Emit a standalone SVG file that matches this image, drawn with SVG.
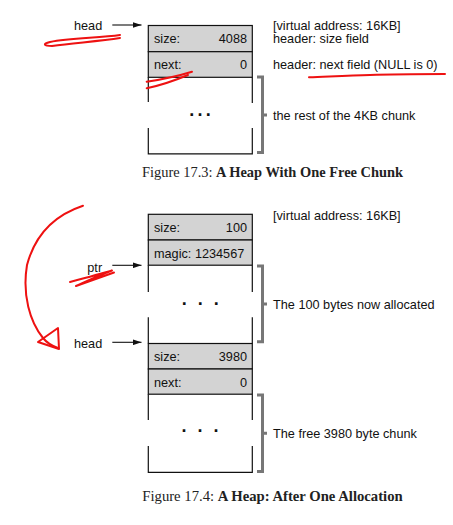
<svg xmlns="http://www.w3.org/2000/svg" width="453" height="525" viewBox="0 0 453 525">
<style>
.t{font-family:"Liberation Sans",Arial,sans-serif;font-size:12.7px;fill:#111}
.r{text-anchor:end}
.cap{font-family:"Liberation Serif","Times New Roman",serif;font-size:14px;fill:#222}
.b{font-weight:bold}
.row{fill:#d3d3d3;stroke:#111;stroke-width:1.2}
.edge{stroke:#111;stroke-width:1.2;fill:none}
.ptr{stroke:#111;stroke-width:1.1}
.br{fill:none;stroke:#777;stroke-width:3}
.dots{font-family:"Liberation Sans",Arial,sans-serif;font-size:18px;font-weight:bold;fill:#111}
.red{fill:none;stroke:#ee1111;stroke-width:2;stroke-linecap:round;stroke-linejoin:round}
</style>
<defs>
<marker id="ah" viewBox="0 0 9 6" refX="9" refY="3" markerWidth="9" markerHeight="6" markerUnits="userSpaceOnUse" orient="auto">
<path d="M0,0 L9,3 L0,6 Z" fill="#111"/>
</marker>
</defs>
<rect width="453" height="525" fill="#fff"/>

<!-- Figure 17.3 -->
<g id="chunk1">
<rect class="row" x="148.3" y="25.5" width="104" height="26.2"/>
<rect class="row" x="148.3" y="51.7" width="104" height="25.6"/>
<path class="edge" d="M148.3,77.3 V102 M252.3,77.3 V103 M148.3,128 V153.8 H252.3 V128"/>
<text class="t" x="154" y="43">size:</text>
<text class="t r" x="247" y="43">4088</text>
<text class="t" x="154" y="69">next:</text>
<text class="t r" x="247" y="69">0</text>
<text class="dots" x="189.2" y="115.6" letter-spacing="3.3">...</text>
</g>
<g id="bracket1">
<path class="br" d="M257,77 H262.5 V152.5 H257 M262.5,115 H267"/>
</g>
<g id="labels1">
<text class="t" x="74" y="30">head</text>
<text class="t" x="273" y="29.5">[virtual address: 16KB]</text>
<text class="t" x="273" y="42.7">header: size field</text>
<text class="t" x="273" y="68.5">header: next field (NULL is 0)</text>
<text class="t" x="273" y="119.5">the rest of the 4KB chunk</text>
</g>

<!-- Figure 17.4 -->
<g id="chunk2">
<rect class="row" x="148.3" y="214.3" width="104" height="25.7"/>
<rect class="row" x="148.3" y="240" width="104" height="25.2"/>
<path class="edge" d="M148.3,265.2 V292 M252.3,265.2 V292 M148.3,317.3 V343.5 M252.3,317.3 V343.5"/>
<text class="t" x="154" y="232">size:</text>
<text class="t r" x="247" y="232">100</text>
<text class="t" x="154" y="258">magic: 1234567</text>
<text class="dots" x="181.8" y="304.6" letter-spacing="3">. . .</text>
</g>
<g id="chunk3">
<rect class="row" x="148.3" y="343.5" width="104" height="25.5"/>
<rect class="row" x="148.3" y="369" width="104" height="25.2"/>
<path class="edge" d="M148.3,394.2 V420 M252.3,394.2 V420 M148.3,446 V472.3 H252.3 V446"/>
<text class="t" x="154" y="361">size:</text>
<text class="t r" x="247" y="361">3980</text>
<text class="t" x="154" y="387">next:</text>
<text class="t r" x="247" y="387">0</text>
<text class="dots" x="181.5" y="432.2" letter-spacing="3">. . .</text>
</g>
<g id="bracket2">
<path class="br" d="M257,266 H262.5 V341.8 H257 M262.5,304 H267"/>
</g>
<g id="bracket3">
<path class="br" d="M257,395 H262.5 V471.5 H257 M262.5,433.3 H267"/>
</g>
<g id="labels2">
<text class="t" x="87.3" y="272">ptr</text>
<text class="t" x="74" y="347.5">head</text>
<text class="t" x="273" y="219.8">[virtual address: 16KB]</text>
<text class="t" x="273" y="308.5">The 100 bytes now allocated</text>
<text class="t" x="273" y="437.5">The free 3980 byte chunk</text>
</g>

<g id="connectors">
<line class="ptr" x1="112.3" y1="25" x2="141.5" y2="25" marker-end="url(#ah)"/>
<line class="ptr" x1="112.3" y1="265.3" x2="141.5" y2="265.3" marker-end="url(#ah)"/>
<line class="ptr" x1="112.3" y1="342.3" x2="141.5" y2="342.3" marker-end="url(#ah)"/>
</g>

<g id="captions">
<text class="cap" x="142" y="177.3" textLength="261" lengthAdjust="spacingAndGlyphs">Figure 17.3: <tspan class="b">A Heap With One Free Chunk</tspan></text>
<text class="cap" x="142.3" y="500.7" textLength="260.4" lengthAdjust="spacingAndGlyphs">Figure 17.4: <tspan class="b">A Heap: After One Allocation</tspan></text>
</g>

<g id="annotations">
<path class="red" d="M120,35 C100,38 70,38 50,42 C42,44 44,46 52,46 C75,43 100,41 120,38"/>
<path class="red" d="M146.7,81.7 C165,79 178,76 192,71.7"/>
<path class="red" d="M146.7,88.3 C162,85 176,80 188,75"/>
<path class="red" d="M309,77.3 C330,76.5 350,75.5 370,75 C395,74 420,74 445,74"/>
<path class="red" d="M70,282 C85,278 100,274 112,270.5 C100,275 85,282 76,286 C90,281 104,276 114,272.5"/>
<path class="red" d="M83,205.7 C55,215 35,235 27,265 C22,295 30,322 43,338 C47,343 52,346 58,348"/>
<path class="red" d="M38,342 L58,328 L59,349 Z"/>
</g>
</svg>
